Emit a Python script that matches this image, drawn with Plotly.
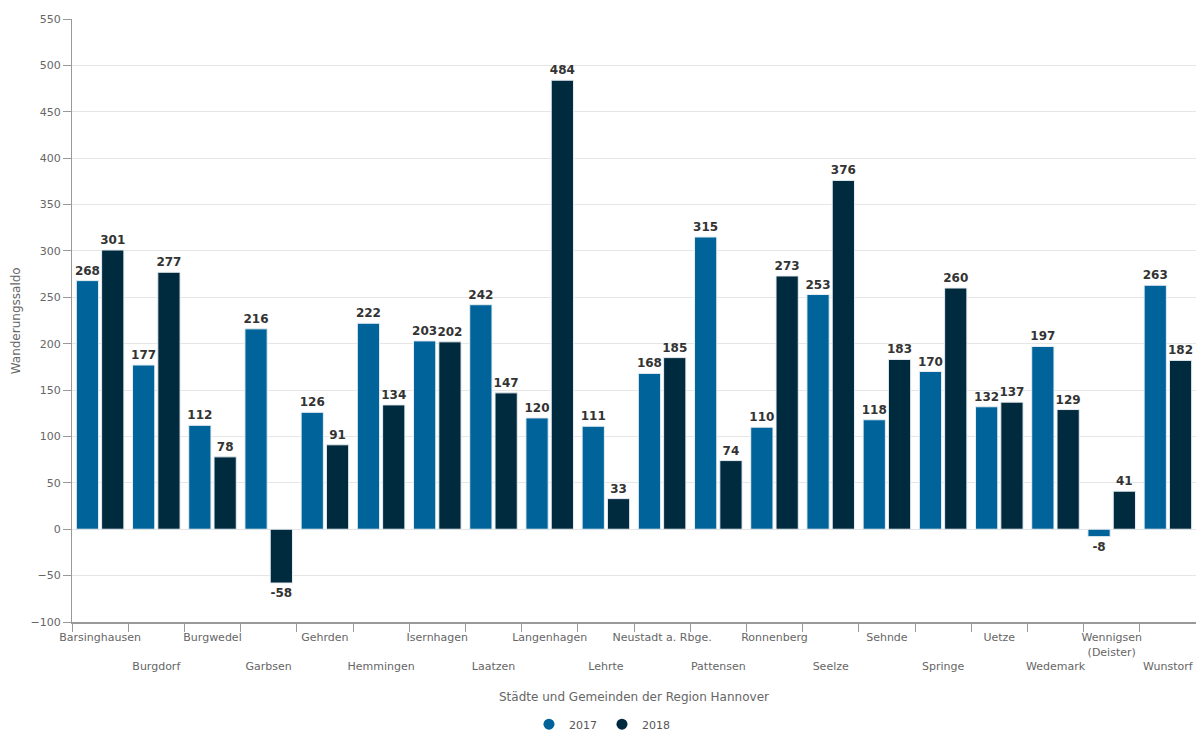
import plotly.graph_objects as go

cities = ["Barsinghausen", "Burgdorf", "Burgwedel", "Garbsen", "Gehrden", "Hemmingen",
          "Isernhagen", "Laatzen", "Langenhagen", "Lehrte", "Neustadt a. Rbge.", "Pattensen",
          "Ronnenberg", "Seelze", "Sehnde", "Springe", "Uetze", "Wedemark",
          "Wennigsen<br>(Deister)", "Wunstorf"]
v2017 = [268, 177, 112, 216, 126, 222, 203, 242, 120, 111, 168, 315, 110, 253, 118, 170, 132, 197, -8, 263]
v2018 = [301, 277, 78, -58, 91, 134, 202, 147, 484, 33, 185, 74, 273, 376, 183, 260, 137, 129, 41, 182]
ytick_vals = list(range(-100, 551, 50))
series = [("2017", v2017, "#00649b"), ("2018", v2018, "#002a3e")]

tick_text = [c if i % 2 == 0 else "<br><br>" + c for i, c in enumerate(cities)]

font = "DejaVu Sans, Verdana, sans-serif"
label_font = dict(family=font, size=12, color="#333333", weight="bold",
                  shadow="0px 0px 2px white")

fig = go.Figure()
for name, vals, color in series:
    fig.add_bar(name=name, x=cities, y=vals, showlegend=False,
                marker=dict(color=color, line=dict(color="#e8eef2", width=1)),
                text=vals, textposition="outside", textfont=label_font,
                constraintext="none", cliponaxis=False)
for name, vals, color in series:
    fig.add_scatter(name=name, x=[None], y=[None], mode="markers",
                    marker=dict(symbol="circle", size=11, color=color))

fig.update_layout(
    width=1196, height=733,
    margin=dict(l=72, r=0, t=19, b=111, autoexpand=False),
    plot_bgcolor="white", paper_bgcolor="white",
    barmode="group", bargap=0.1, bargroupgap=0.12,
    font=dict(family=font, size=11, color="#666666"),
    showlegend=True,
    legend=dict(orientation="h", x=0.4715, xanchor="center", yref="container", y=0.012,
                yanchor="middle", font=dict(size=11, color="#555555")),
)
fig.update_xaxes(
    tickmode="array", tickvals=cities, ticktext=tick_text, tickangle=0, automargin=False,
    tickson="boundaries", ticks="outside", ticklen=8, tickcolor="#999999", ticklabelstandoff=4,
    showline=True, linecolor="#999999", linewidth=2,
    showgrid=False, tickfont=dict(size=11, color="#666666"),
)
fig.update_yaxes(
    range=[-100, 550], tickvals=ytick_vals, ticks="outside", ticklen=8, tickcolor="#999999",
    showline=True, linecolor="#999999", linewidth=1, automargin=False,
    showgrid=True, gridcolor="#e6e6e6", zeroline=True, zerolinecolor="#e6e6e6", zerolinewidth=1,
    tickfont=dict(size=11, color="#666666"),
)
fig.add_annotation(text="Wanderungssaldo", xref="paper", yref="paper", x=-0.05, y=0.5,
                   textangle=-90, showarrow=False, font=dict(size=12, color="#666666"),
                   xanchor="center", yanchor="middle")
fig.add_annotation(text="Städte und Gemeinden der Region Hannover", xref="paper", yref="paper",
                   x=0.5, y=-0.124, showarrow=False, font=dict(size=12, color="#666666"),
                   xanchor="center", yanchor="middle")

fig.write_html("out.html")
